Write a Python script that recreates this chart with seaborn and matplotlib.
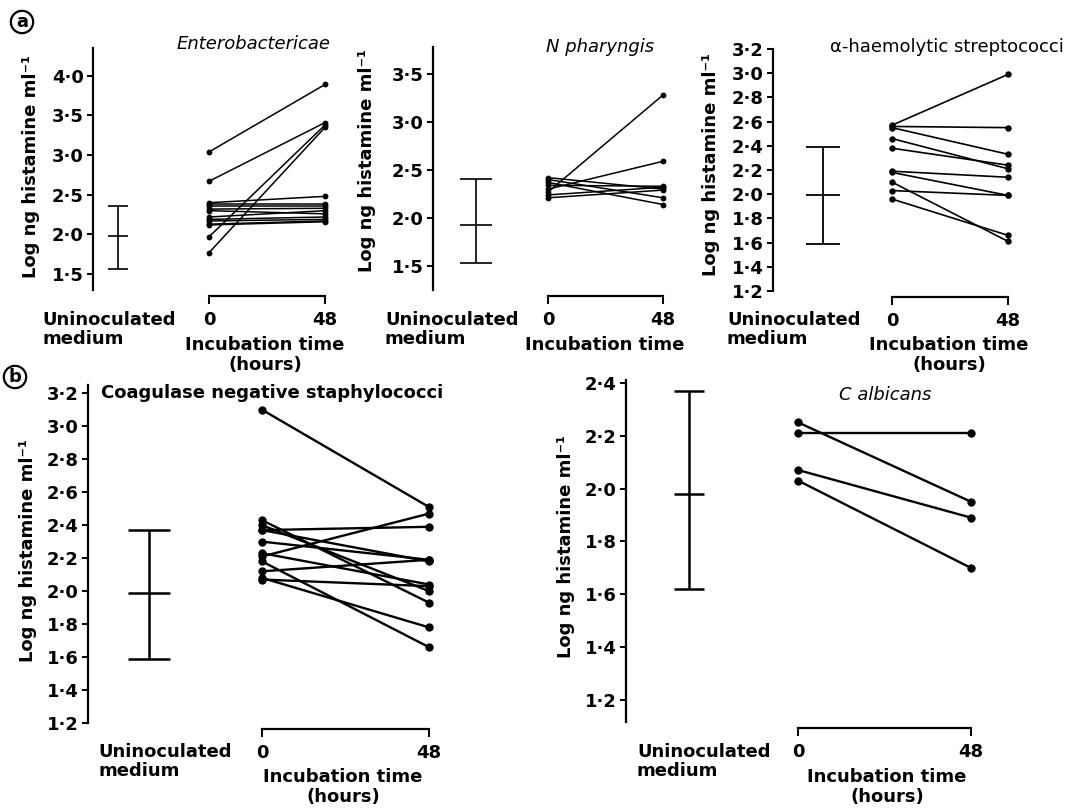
import numpy as np
import pandas as pd
import matplotlib
matplotlib.use("Agg")
import matplotlib.pyplot as plt
import seaborn as sns

# ---------------- data ----------------
ent_0h = [3.04, 2.67, 1.97, 1.77, 2.40, 2.38, 2.36, 2.32, 2.30, 2.22, 2.19, 2.17, 2.13, 2.12]
ent_48h = [3.89, 3.41, 3.38, 3.35, 2.48, 2.38, 2.36, 2.33, 2.26, 2.30, 2.22, 2.19, 2.17, 2.16]
ent_medium = [1.98, 1.57, 2.36]          # mean, low, high

nph_0h = [2.42, 2.40, 2.37, 2.34, 2.30, 2.27, 2.24, 2.21]
nph_48h = [2.30, 2.21, 2.14, 2.33, 2.59, 3.28, 2.32, 2.29]
nph_medium = [1.93, 1.53, 2.41]

ahs_0h = [2.57, 2.56, 2.55, 2.46, 2.38, 2.19, 2.18, 2.10, 2.03, 1.96]
ahs_48h = [2.99, 2.55, 2.33, 2.21, 2.24, 2.14, 1.99, 1.61, 1.99, 1.66]
ahs_medium = [1.99, 1.59, 2.39]

cns_0h = [3.10, 2.43, 2.40, 2.37, 2.37, 2.30, 2.23, 2.21, 2.18, 2.12, 2.08, 2.07]
cns_48h = [2.51, 1.93, 2.00, 2.39, 2.18, 2.19, 2.04, 2.47, 1.66, 2.19, 1.78, 2.03]
cns_medium = [1.99, 1.59, 2.37]

cal_0h = [2.25, 2.21, 2.07, 2.03]
cal_48h = [1.95, 2.21, 1.89, 1.70]
cal_medium = [1.98, 1.62, 2.37]

times = [0, 48]
titles = ["Enterobactericae", "N pharyngis", "\u03b1-haemolytic streptococci",
          "Coagulase negative staphylococci", "C albicans"]
ylabel = "Log ng histamine ml\u207b\u00b9"

# ---------------- layout (pixels in the 1078x810 canvas) ----------------
W, H = 1078, 810
sns.set_theme(style="white")
plt.rcParams["font.family"] = ["DejaVu Sans"]
plt.rcParams["text.color"] = "black"
plt.rcParams["axes.labelcolor"] = "black"
plt.rcParams["xtick.color"] = "black"
plt.rcParams["ytick.color"] = "black"
fig = plt.figure(figsize=(W / 100, H / 100), dpi=100)

def fx(x):
    return x / W

def fy(y):
    return 1 - y / H

FS = 13

panels = [
    dict(d0=ent_0h, d48=ent_48h, med=ent_medium, title=titles[0], tstyle="italic", tweight="normal",
         left=93, right=345, top=48, bottom=290, ylim=(1.30, 4.35), yt=np.arange(1.5, 4.01, 0.5),
         t0=209, t48=325, un=118, cap=14.4, lw=1.1, ms=4.2,
         title_xy=(254, 44), title_ha="center", ylab_x=40, ylab_y=167,
         un_x=42, lab_y=320, inc_x=265, hours=True),
    dict(d0=nph_0h, d48=nph_48h, med=nph_medium, title=titles[1], tstyle="italic", tweight="normal",
         left=433, right=690, top=47, bottom=290, ylim=(1.25, 3.78), yt=np.arange(1.5, 3.51, 0.5),
         t0=548, t48=663, un=476, cap=23, lw=1.1, ms=4.2,
         title_xy=(600, 47), title_ha="center", ylab_x=376, ylab_y=160,
         un_x=385, lab_y=320, inc_x=605, hours=False),
    dict(d0=ahs_0h, d48=ahs_48h, med=ahs_medium, title=titles[2], tstyle="normal", tweight="normal",
         left=773, right=1040, top=49, bottom=291, ylim=(1.2, 3.2), yt=np.arange(1.2, 3.21, 0.2),
         t0=892, t48=1008, un=823, cap=24, lw=1.2, ms=4.6,
         title_xy=(947, 47), title_ha="center", ylab_x=720, ylab_y=165,
         un_x=727, lab_y=320, inc_x=949, hours=True),
    dict(d0=cns_0h, d48=cns_48h, med=cns_medium, title=titles[3], tstyle="normal", tweight="bold",
         left=88, right=470, top=385, bottom=723, ylim=(1.2, 3.25), yt=np.arange(1.2, 3.21, 0.2),
         t0=262, t48=429, un=149, cap=30, lw=1.7, ms=6.0,
         title_xy=(101, 393), title_ha="left", ylab_x=37, ylab_y=550,
         un_x=98, lab_y=752, inc_x=343, hours=True),
    dict(d0=cal_0h, d48=cal_48h, med=cal_medium, title=titles[4], tstyle="italic", tweight="normal",
         left=626, right=1010, top=380, bottom=722, ylim=(1.118, 2.41), yt=np.arange(1.2, 2.41, 0.2),
         t0=798, t48=971, un=689, cap=22, lw=1.7, ms=6.0,
         title_xy=(885, 395), title_ha="center", ylab_x=575, ylab_y=547,
         un_x=637, lab_y=752, inc_x=887, hours=True),
]

for p in panels:
    ax = fig.add_axes([fx(p["left"]), fy(p["bottom"]), fx(p["right"] - p["left"]),
                       (p["bottom"] - p["top"]) / H])
    scale = 48.0 / (p["t48"] - p["t0"])
    ax.set_xlim((p["left"] - p["t0"]) * scale, (p["right"] - p["t0"]) * scale)
    ax.set_ylim(*p["ylim"])
    ax.patch.set_alpha(0)

    n = len(p["d0"])
    df = pd.DataFrame({
        "isolate": list(range(n)) * 2,
        "hours": [times[0]] * n + [times[1]] * n,
        "value": list(p["d0"]) + list(p["d48"]),
    })
    sns.lineplot(data=df, x="hours", y="value", units="isolate", estimator=None, ax=ax,
                 color="black", lw=p["lw"], marker="o", markersize=p["ms"],
                 markeredgewidth=0, legend=False, sort=False)

    mean, lo, hi = p["med"]
    ux = (p["un"] - p["t0"]) * scale
    ax.errorbar([ux], [mean], yerr=[[mean - lo], [hi - mean]], fmt="_", color="black",
                ms=p["cap"], mew=p["lw"] + 0.1, capsize=p["cap"] / 2, capthick=p["lw"] + 0.1,
                elinewidth=p["lw"] + 0.1)

    # axes styling
    for s in ["top", "right"]:
        ax.spines[s].set_visible(False)
    for s in ["left", "bottom"]:
        ax.spines[s].set_linewidth(1.6)
        ax.spines[s].set_color("black")
    ax.spines["bottom"].set_position(("outward", 4))
    ax.spines["bottom"].set_bounds(0, 48)

    ax.set_yticks(p["yt"])
    ax.set_yticklabels([f"{v:.1f}".replace(".", "\u00b7") for v in p["yt"]],
                       fontsize=FS, fontweight="bold")
    ax.set_xticks(times)
    ax.set_xticklabels(["0", "48"], fontsize=FS, fontweight="bold")
    ax.tick_params(axis="y", direction="out", length=4.5, width=1.4, pad=2, colors="black",
                   left=True)
    ax.tick_params(axis="x", direction="out", length=6, width=1.4, pad=5, colors="black",
                   bottom=True)
    ax.set_xlabel("")
    ax.set_ylabel("")
    ax.grid(False)

    # texts
    tx, ty = p["title_xy"]
    fig.text(fx(tx), fy(ty), p["title"], ha=p["title_ha"], va="center", fontsize=13,
             style=p["tstyle"], fontweight=p["tweight"], color="black")
    fig.text(fx(p["ylab_x"]), fy(p["ylab_y"]), ylabel, rotation=90, ha="right", va="center",
             fontsize=13, fontweight="bold", color="black")
    fig.text(fx(p["un_x"]), fy(p["lab_y"]), "Uninoculated", ha="left", va="center",
             fontsize=13, fontweight="bold", color="black")
    fig.text(fx(p["un_x"]), fy(p["lab_y"] + 19), "medium", ha="left", va="center",
             fontsize=13, fontweight="bold", color="black")
    fig.text(fx(p["inc_x"]), fy(p["lab_y"] + 25), "Incubation time", ha="center", va="center",
             fontsize=13, fontweight="bold", color="black")
    if p["hours"]:
        fig.text(fx(p["inc_x"]), fy(p["lab_y"] + 45), "(hours)", ha="center", va="center",
                 fontsize=13, fontweight="bold", color="black")

for lab, (x, y) in {"a": (22, 22), "b": (15, 377)}.items():
    fig.text(fx(x), fy(y), lab, ha="center", va="center", fontsize=13, fontweight="bold",
             color="black",
             bbox=dict(boxstyle="circle,pad=0.12", fc="white", ec="black", lw=1.6))

fig.savefig("out.png", dpi=100, facecolor="white")
